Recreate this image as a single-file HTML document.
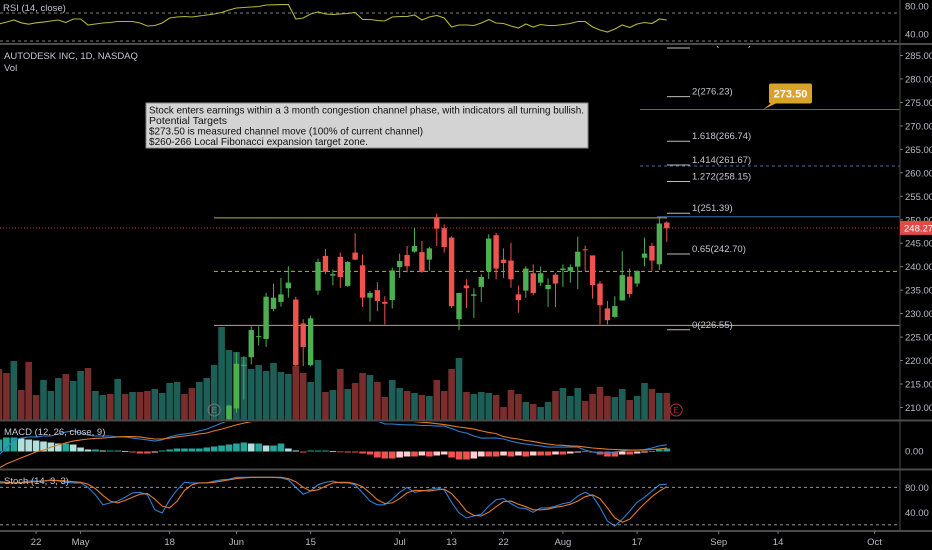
<!DOCTYPE html>
<html><head><meta charset="utf-8"><style>
html,body{margin:0;padding:0;background:#000;}
svg{display:block;font-family:"Liberation Sans",sans-serif;}
.ax{fill:#b8bcc4;font-size:9.5px;}
.lbl{fill:#c4c7cf;font-size:9.5px;}
.note{font-size:10.5px;fill:#111;font-family:"Liberation Sans",sans-serif;}
</style></head><body>
<svg id="c" width="932" height="550" viewBox="0 0 932 550">
<rect x="0" y="0" width="932" height="550" fill="#000"/>
<defs>
<clipPath id="mainClip"><rect x="0" y="46" width="900" height="374"/></clipPath>
<clipPath id="macdClip"><rect x="0" y="422" width="900" height="47"/></clipPath>
<clipPath id="rsiClip"><rect x="0" y="0" width="900" height="43"/></clipPath>
</defs>
<g id="grid"></g>
<g id="vol" clip-path="url(#mainClip)"></g>
<g id="ann" clip-path="url(#mainClip)"></g>
<g id="candles" clip-path="url(#mainClip)"></g>
<g id="rsi" clip-path="url(#rsiClip)"></g>
<g id="macd" clip-path="url(#macdClip)"></g>
<g id="stoch"></g>
<g id="axes"></g>
<text x="3" y="11" class="lbl">RSI (14, close)</text>
<text x="4" y="59" class="lbl">AUTODESK INC, 1D, NASDAQ</text>
<text x="4" y="71" class="lbl">Vol</text>
<text x="4" y="435" class="lbl">MACD (12, 26, close, 9)</text>
<text x="4" y="484" class="lbl">Stoch (14, 3, 3)</text>
<g>
<rect x="146" y="103" width="442" height="45" fill="#d3d3d3" stroke="#888" stroke-width="1"/>
<text x="149" y="113.5" class="note" textLength="435" lengthAdjust="spacingAndGlyphs">Stock enters earnings within a 3 month congestion channel phase, with indicators all turning bullish.</text>
<text x="149" y="124" class="note" textLength="78" lengthAdjust="spacingAndGlyphs">Potential Targets</text>
<text x="149" y="134.5" class="note" textLength="274" lengthAdjust="spacingAndGlyphs">$273.50 is measured channel move (100% of current channel)</text>
<text x="149" y="145" class="note" textLength="219" lengthAdjust="spacingAndGlyphs">$260-266 Local Fibonacci expansion target zone.</text>
</g>
</svg>
<script>
// ---------- data ----------
const candleOpen = [207,209.8,219.0,220.7,225.1,224.6,231.0,232.5,235.4,233.0,227.9,219.0,234.9,242.3,238.1,242.1,235.9,243.0,240.3,233.4,235.0,232.5,232.9,239.9,242.5,243.2,243.1,241.5,250.4,248.2,246.2,228.8,236.0,233.8,235.7,239.1,246.7,241.5,241.3,234.1,234.9,238.6,236.6,235.2,238.3,239.3,239.1,240.0,243.7,242.4,236.4,231.1,229.3,232.8,237.9,236.4,241.9,244.4,240.5,249.4];
const candleHigh = [210.6,221.7,220.9,227.3,227.3,234.4,236.4,237.6,240.1,233.6,228.8,229.6,241.7,243.8,239.4,243.0,241.2,247.1,242.6,234.8,236.7,233.7,239.8,242.8,244.4,248.3,245.5,244.2,251.3,249.0,246.5,234.4,237.3,235.4,238.4,246.9,247.2,243.9,245.1,236.0,240.1,240.5,240.0,237.5,238.6,240.5,240.5,246.4,244.5,242.4,236.9,232.7,233.7,243.3,239.6,239.2,246.2,245.1,250.6,249.7];
const candleLow = [206,208.9,211.7,219.2,223.2,222.9,230.5,231.5,233.4,218.8,218.8,218.8,234.0,238.4,236.0,235.5,235.7,241.4,231.4,228.3,230.5,227.7,231.1,237.6,238.8,243.0,238.7,239.1,244.4,243.0,231.2,226.5,231.2,229.1,232.5,237.4,237.3,237.6,235.5,230.2,233.4,233.9,235.9,231.4,231.4,235.7,236.6,235.2,239.1,233.2,227.7,227.7,229.1,232.8,233.4,235.7,240.1,239.1,239.3,245.3];
const candleClose = [210.4,219.3,219.1,226.5,225.2,233.6,233.4,234.1,236.6,219.0,222.9,229.0,241.0,238.9,238.4,237.8,241.0,241.5,233.4,234.4,232.7,232.1,239.2,241.2,240.1,244.4,238.9,243.9,248.1,244.2,231.6,234.4,235.4,234.1,237.8,246.0,239.6,240.8,237.3,232.9,239.6,234.4,238.6,236.1,236.4,239.6,239.9,243.2,243.5,236.1,231.8,228.6,231.6,238.2,234.2,239.1,242.8,241.3,249.2,248.2];
const volumeEarly = [51,47,59,30,58,25,40,29,42,46,39,49,52,29,25,26,41,26,28,28,29,31,27,37,38,26,32,38,42,55,93];
const volumeEarlyDir = [-1,-1,1,-1,-1,-1,1,1,1,-1,1,1,-1,1,1,-1,1,-1,1,-1,-1,1,1,1,1,-1,-1,1,1,1,1];
const volume = [70,68,63,51,55,49,57,48,46,54,47,38,60,28,30,51,31,37,47,45,38,23,40,32,29,27,25,24,40,29,51,62,28,26,28,27,25,13,30,26,18,16,13,18,29,32,24,32,19,26,33,24,23,31,20,24,37,31,27,27];
const rsiValues = [54.3,57,60,56,54,56,57,58.6,60,56.4,61.4,61.4,52.9,54.3,55.7,56.4,57.9,57.9,57.9,55.7,51.4,52.1,55.7,62.9,64.3,65,64.3,65.7,67.1,68.6,70.7,74.3,77.1,77.9,78.6,79.3,81.4,81.7,82,82.1,61.4,62.9,68.6,71.4,68.6,67.9,68.6,69.3,70.7,60.7,60.7,59.3,58.6,64.3,65,65,67.1,60,64.3,66.4,62.9,50,52.9,52.9,52.1,55.7,60.7,55.7,55,51.4,48.6,54.3,50,53.6,52.1,52.1,53.6,55,57.9,57.9,50,45.7,42.9,47.1,52.9,49.3,54.3,56.4,55,61.4,60];
const macdLine = [-1.3,1,3.7,4.3,4.7,4.7,5,5,5.7,6.3,6.7,6,5.3,5,5,5,4.7,4.7,4.3,4,3.7,3.3,3.7,4.7,5.3,5.7,6,6.7,7.3,8.3,9.3,10.3,11,12.5,14,15,16,17,17.5,17,15.5,14.5,14,14,13.5,13,12.5,12,11.5,11,10.5,10,9,9,8.8,8.7,8.7,8.5,8.5,8.3,8.3,7.5,6.5,6,5,4.3,4.3,4.3,4,3.3,2.7,2.3,2,1.7,1.3,1.3,1.3,1.3,1.3,0.3,-0.3,-0.7,-0.7,-0.3,0,0.3,0.3,0.5,1,1.7,2.1];
const signalLine = [-5.7,-4.3,-3.3,-2.3,-1.3,-0.3,0.3,1.3,2,2.7,3.3,3.7,4,4.2,4.3,4.5,4.7,4.8,4.8,4.7,4.3,4,4,4.3,4.7,5,5.3,5.7,6,6.7,7.3,8,8.7,9.3,9.8,10.2,10.7,11.3,12,12.5,12.8,13,13.1,13.1,13,12.9,12.7,12.5,12.3,12,11.6,11.2,10.8,10.5,10.2,10,9.8,9.6,9.4,9.1,8.8,8.4,8.0,7.7,7.3,6.7,6.2,5.8,4.8,4.3,4,3.5,3.2,2.7,2.3,2,1.9,1.7,1.6,1.3,1,0.8,0.6,0.5,0.4,0.3,0.3,0.3,0.5,0.7,1];
const macdHist = [12,14,14,13,12,11,10,9,8,8,7,4,2,2,1,1,1,0.5,-1,-2,-2,-1,1,2,3,3,3,3,4,5,6,7,8,9,8,8,6,6,8,3,1,-1,1,1,1,0.5,-0.5,-1,-1,-2,-3,-6,-7,-7,-6,-5,-5,-4,-5,-4,-3,-6,-8,-8,-7,-5,-5,-5,-4,-5,-4,-5,-4,-4,-4,-3,-3,-2,-1,0.5,-1,-3,-5,-5,-3,-3,-2,-1,0.5,2,3];
const stochK = [87,87,87,88,90,90,90,92,90,88,87,87,80,68,52,55,58,64,71,72,68,44,39,60,76,88,87,87,87,90,92,93,96,96,96,96,96,96,95,92,80,69,74,84,88,90,87,87,84,71,58,52,52,61,72,80,72,74,76,79,76,56,39,31,34,37,50,60,62,54,47,46,40,47,47,50,54,56,66,72,66,48,26,18,29,42,56,64,74,84,85];
const stochD = [89,88,87,87,88,89,90,91,91,90,89,88,85,78,67,58,55,59,64,69,70,61,50,47,58,75,84,87,87,88,90,92,94,95,96,96,96,96,96,94,89,80,74,76,82,87,88,88,86,81,71,60,54,55,62,71,75,75,74,76,77,70,57,42,35,34,40,49,57,58,53,49,44,44,45,48,50,53,58,65,68,62,47,31,24,29,42,54,65,74,81];
const priceTicks = [210,215,220,225,230,235,240,245,250,255,260,265,270,275,280,285];
const dateLabels = ["22","May","18","Jun","15","Jul","13","22","Aug","17","Sep","14","Oct"];
const dateIndex = [-26,-20,-8,1,11,23,30,37,45,55,66,74,87];
const fibLabels = ["0(226.55)","0.65(242.70)","1(251.39)","1.272(258.15)","1.414(261.67)","1.618(266.74)","2(276.23)","2.414(286.61)"];
const fibPrices = [226.55,242.70,251.39,258.15,261.67,266.74,276.23,286.61];
const channelTop = 250.4, channelMid = 239.0, channelBottom = 227.5;
const lastPrice = 248.27, targetPrice = 273.50;
// ---------- scales ----------
const EARLY = 31;
const xOf = i => 229 + 7.42 * i;
const yPrice = p => 55.5 + (285 - p) * 4.693;
const yVol = v => 420 - v;
const yRsi = v => 6 + (80 - v) * 0.7;
const yMacd = v => 451 - v * 3;
const yHist = v => 451.5 - v;
const yStoch = v => 487.3 + (80 - v) * 0.625;
const NS = "http://www.w3.org/2000/svg";
function mk(tag, attrs, parent){const e=document.createElementNS(NS,tag);for(const k in attrs)e.setAttribute(k,attrs[k]);parent.appendChild(e);return e;}
const $ = id => document.getElementById(id);
const UP="#4caf50", DN="#ef5350", VUP="#1d5f56", VDN="#7a2d2d";

const ax = $("axes");
[[44,"rsi-divider"],[420.5,"volume-macd-divider"],[469.5,"macd-stoch-divider"],[531,"time-axis-line"]].forEach(d=>{
  const l=mk("line",{x1:0,x2:932,y1:d[0],y2:d[0],stroke:"#4a4a4a","stroke-width":2},ax);
  
  
});
const vsep=mk("line",{x1:900,x2:900,y1:0,y2:531,stroke:"#4a4a4a","stroke-width":1},ax);


priceTicks.forEach(p=>{
  const y=yPrice(p);
  if(y<50||y>416) return;
  mk("line",{x1:900,x2:903,y1:y,y2:y,stroke:"#777"},ax);
  const t=mk("text",{x:905,y:y+3.5,class:"ax"},ax); t.textContent=p.toFixed(2);
  
  
});
[[80,"rsi-tick-80"],[40,"rsi-tick-40"]].forEach(d=>{const t=mk("text",{x:905,y:yRsi(d[0])+3.5,class:"ax"},ax);t.textContent=d[0].toFixed(2);
  
  });
[70,30].forEach(v=>{const l=mk("line",{x1:0,x2:900,y1:yRsi(v),y2:yRsi(v),stroke:"#aaa","stroke-dasharray":"3 3","stroke-width":0.8},ax);
  
  });
{const t=mk("text",{x:905,y:yMacd(0)+3.5,class:"ax"},ax);t.textContent="0.00";
 
 }
[80,40].forEach(v=>{const t=mk("text",{x:905,y:yStoch(v)+3.5,class:"ax"},ax);t.textContent=v.toFixed(2);
  
  });
[80,20].forEach(v=>{const l=mk("line",{x1:0,x2:900,y1:yStoch(v),y2:yStoch(v),stroke:"#aaa","stroke-dasharray":"3 3","stroke-width":0.8},ax);
  
  });
dateLabels.forEach((s,k)=>{
  const x=xOf(dateIndex[k]);
  mk("line",{x1:x,x2:x,y1:531,y2:534,stroke:"#777"},ax);
  const t=mk("text",{x:x,y:545,class:"ax","text-anchor":"middle"},ax); t.textContent=s;
  
  
});

const vg=$("vol");
for(let k=0;k<volumeEarly.length;k++){
  const i=k-EARLY, x=xOf(i);
  const r=mk("rect",{x:x-3.3,y:yVol(volumeEarly[k]),width:6.6,height:volumeEarly[k],fill:volumeEarlyDir[k]>0?VUP:VDN},vg);
  
  
}
for(let i=0;i<volume.length;i++){
  const x=xOf(i);
  const r=mk("rect",{x:x-3.3,y:yVol(volume[i]),width:6.6,height:volume[i],fill:candleClose[i]>=candleOpen[i]?VUP:VDN},vg);
  
  
}

const ag=$("ann");
function hline(y,x1,x2,color,dash,w,name){const l=mk("line",{x1:x1,x2:x2,y1:y,y2:y,stroke:color,"stroke-width":w||1},ag);if(dash)l.setAttribute("stroke-dasharray",dash);
  
  return l;}
hline(yPrice(channelTop),214,667,"#b5b53a",null,1,"channel-top-line");
hline(yPrice(fibPrices[2])+3.5,657,900,"#3c6ea8",null,1,"fib-1-extension-line");
hline(yPrice(channelMid),214,900,"#b5b53a","4 3",1,"channel-mid-line");
hline(yPrice(channelBottom),214,900,"#b5b53a",null,1,"channel-bottom-line");
hline(yPrice(lastPrice),0,900,"#c0392b","1 2",1,"last-price-line");
hline(yPrice(fibPrices[4])+1,640,900,"#3c6ea8","3 3",1,"fib-1414-line");
hline(yPrice(targetPrice),640,900,"#3c6ea8",null,1,"target-line");
fibPrices.forEach((p,k)=>{
  const y=yPrice(p);
  const l=mk("line",{x1:667,x2:690,y1:y,y2:y,stroke:"#bbb","stroke-width":1},ag);
  
  
  const t=mk("text",{x:692,y:y-2,class:"lbl","font-size":"9px"},ag); t.textContent=fibLabels[k];
  
  
});
[[xOf(-2),"#777"],[xOf(60)+2,"#a33"]].forEach(d=>{
  const c=mk("circle",{cx:d[0],cy:410,r:6,fill:"none",stroke:d[1],"stroke-width":1},ag);
  
  
  const t=mk("text",{x:d[0],y:413,"font-size":"8px",fill:d[1],"text-anchor":"middle"},ag);t.textContent="E";
});

const cg=$("candles");
for(let i=0;i<candleOpen.length;i++){
  const o=candleOpen[i],c=candleClose[i],h=candleHigh[i],l=candleLow[i],x=xOf(i);
  const col=c>=o?UP:DN;
  const g=mk("g",{},cg);
  
  
  mk("line",{x1:x,x2:x,y1:yPrice(h),y2:yPrice(l),stroke:col,"stroke-width":1},g);
  const yt=yPrice(Math.max(o,c)), yb=yPrice(Math.min(o,c));
  mk("rect",{x:x-2.7,y:yt,width:5.4,height:Math.max(1,yb-yt),fill:col},g);
}

{
  const y=yPrice(lastPrice);
  const r=mk("rect",{x:900,y:y-7,width:32,height:14,fill:"#e04b48"},ax);
  
  
  const t=mk("text",{x:904,y:y+3.5,"font-size":"9.5px",fill:"#fff"},ax);t.textContent=lastPrice.toFixed(2);
  const ty=yPrice(targetPrice);
  mk("path",{d:`M763 ${ty} L772 ${ty-7} L778 ${ty-7} Z`,fill:"#d9a32a"},ax);
  const b=mk("rect",{x:769,y:ty-26,width:43,height:20,rx:2,fill:"#d9a32a"},ax);
  
  
  const bt=mk("text",{x:790.5,y:ty-12,"font-size":"11px","font-weight":"bold",fill:"#fff","text-anchor":"middle"},ax);bt.textContent=targetPrice.toFixed(2);
}

function poly(parent,vals,yf,color,name){
  const pts=vals.map((v,k)=>xOf(k-EARLY).toFixed(1)+","+yf(v).toFixed(1)).join(" ");
  const p=mk("polyline",{points:pts,fill:"none",stroke:color,"stroke-width":1.1},parent);
  
  
}
poly($("rsi"),rsiValues,yRsi,"#b5b53a","rsi-line");

const mg=$("macd");
macdHist.forEach((v,k)=>{
  const prev=k>0?macdHist[k-1]:v;
  let col;
  if(v>=0) col=v>=prev?"#26a69a":"#b2dfdb"; else col=v<=prev?"#ef5350":"#ffcdd2";
  const y0=yHist(0), y1=yHist(v);
  const r=mk("rect",{x:xOf(k-EARLY)-3.3,y:Math.min(y0,y1),width:6.6,height:Math.max(0.8,Math.abs(y1-y0)),fill:col},mg);
  
  
});
poly(mg,macdLine,yMacd,"#2f7fd0","macd-line");
poly(mg,signalLine,yMacd,"#e07a2a","macd-signal-line");
poly($("stoch"),stochK,yStoch,"#2f7fd0","stoch-k-line");
poly($("stoch"),stochD,yStoch,"#e07a2a","stoch-d-line");
</script>
</body></html>
